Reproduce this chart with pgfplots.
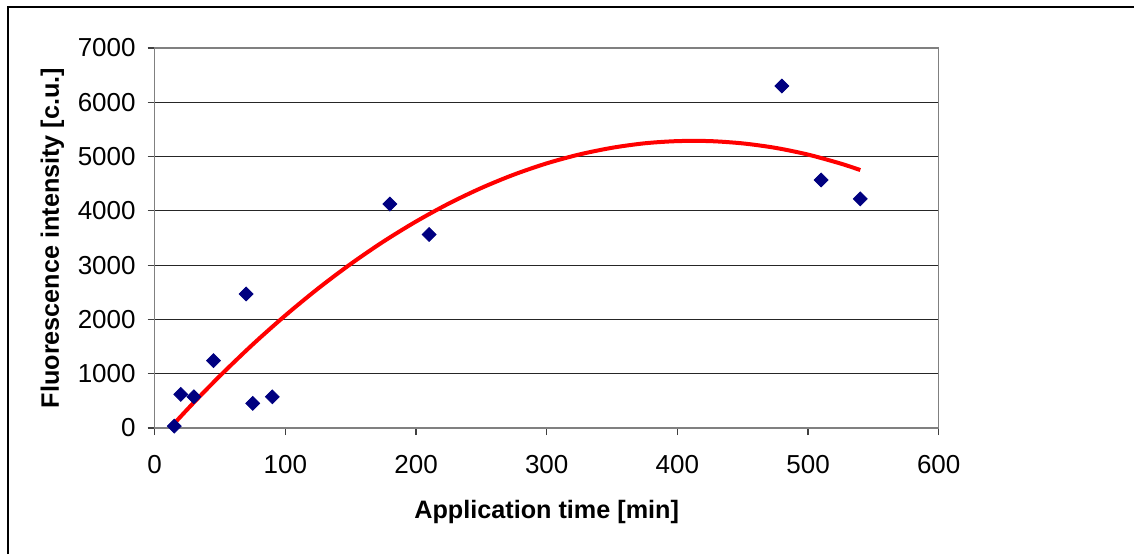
\documentclass[border=0pt]{standalone}
\usepackage{pgfplots}
\pgfplotsset{compat=1.18}
\usepackage{fontspec}
\setmainfont{Liberation Sans}
\definecolor{navy}{RGB}{0,0,128}
\begin{document}
\begin{tikzpicture}
\useasboundingbox (0,0) rectangle (567pt,-277pt);
\draw[black,line width=0.6pt] (4pt,-277pt) -- (4pt,-3.5pt) -- (567pt,-3.5pt);
\begin{axis}[
  at={(77.35pt,-214pt)}, anchor=south west,
  scale only axis, width=392pt, height=190pt,
  xmin=0, xmax=600, ymin=0, ymax=7000,
  xtick={0,100,...,600}, ytick={0,1000,...,7000},
  /pgf/number format/assume math mode=true,
  scaled ticks=false,
  yticklabel style={/pgf/number format/1000 sep={}, xshift=-2.5pt},
  xticklabel style={/pgf/number format/1000 sep={}, yshift=-6.5pt},
  tick label style={font=\fontsize{13}{15}\selectfont},
  tick align=outside, tick pos=left,
  major tick length=3.5pt,
  tick style={black!75, line width=0.6pt},
  ymajorgrids, grid style={black!85, line width=0.5pt},
  axis line style={gray, line width=0.6pt},
  xlabel={\bfseries Application time [min]},
  ylabel={\bfseries Fluorescence intensity [c.u.]},
  label style={font=\fontsize{12.6}{14}\selectfont},
  xlabel style={yshift=-6.5pt},
  ylabel style={yshift=0pt},
  clip=false,
]
\addplot[red, line width=2pt, smooth, no marks] coordinates {
(15,85) (30,471) (50,962) (75,1539) (100,2074) (125,2569) (150,3022)
(175,3434) (200,3804) (225,4134) (250,4422) (275,4669) (300,4875)
(325,5039) (350,5162) (375,5245) (400,5285) (425,5285) (450,5243)
(475,5161) (500,5037) (525,4871) (540,4752)
};
\addplot[only marks, mark=square*, mark size=2.45pt, mark options={rotate=45, fill=navy, draw=navy}] coordinates {
(15,35) (20,620) (30,575) (45,1240) (70,2470) (75,455) (90,575)
(180,4125) (210,3565) (480,6300) (510,4570) (540,4220)
};
\end{axis}
\end{tikzpicture}
\end{document}
